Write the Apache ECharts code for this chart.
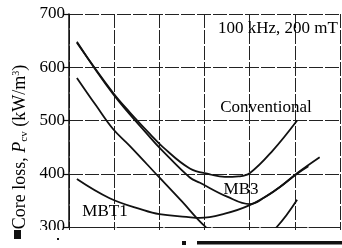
<!DOCTYPE html>
<html>
<head>
<meta charset="utf-8">
<script src="https://cdn.jsdelivr.net/npm/echarts@6/dist/echarts.min.js"></script>
<style>
  html, body {margin: 0; padding: 0; background: #fff}
  #main {width: 342px; height: 248px}
</style>
</head>
<body>
<div id="main"></div>
<script>
// x is temperature (deg C), labels are cut off in the source picture
var tempRange = [0, 120]
var lossRange = [300, 700]

var convTemp = [3.5, 19.5, 27, 36, 41.6, 53.5, 62.4, 69, 75, 80, 90.3, 101]
var convLoss = [646, 552, 515, 474, 450, 410, 399, 394, 395, 401, 444, 500]

var mb3Temp = [3.5, 19.5, 36, 41, 53.5, 58, 70, 80, 86.7, 93.4, 101, 111]
var mb3Loss = [648, 550, 468, 445, 393, 383, 357, 343, 356, 375, 401, 431]

var mbt1Temp = [3.5, 18, 32.7, 40, 52, 58, 69, 80, 91, 101, 106]
var mbt1Loss = [390, 354, 332, 324, 319, 317, 325, 341, 368, 400, 414]

var steepTemp = [3.5, 12, 19.5, 27, 40, 50, 60, 68, 76, 84, 92, 101]
var steepLoss = [580, 528, 484, 452, 393, 348, 302, 276, 265, 274, 300, 351]

var serif = '"Liberation Serif", "DejaVu Serif", serif'

function pairs(xs, ys) {
  return xs.map(function (x, i) {
    return [x, ys[i]]
  })
}

function curve(name, xs, ys) {
  return {
    name: name,
    type: 'line',
    data: pairs(xs, ys),
    smooth: 0.4,
    showSymbol: false,
    clip: true,
    lineStyle: {color: '#111', width: 1.8}
  }
}

function label(text, x, y) {
  return {
    type: 'text',
    x: x, y: y,
    z: 50,
    style: {text: text, font: '17px ' + serif, fill: '#000', align: 'center', verticalAlign: 'middle'}
  }
}

var chart = echarts.init(document.getElementById('main'))
var option = {
  animation: false,
  grid: {left: 69, top: 14, right: 2, bottom: 21},
  xAxis: {
    type: 'value',
    min: tempRange[0], max: tempRange[1], interval: 20,
    axisLabel: {show: false},
    axisLine: {lineStyle: {color: '#222', width: 1, type: [4, 2]}},
    axisTick: {show: true, length: 3, lineStyle: {color: '#222'}},
    splitLine: {show: true, lineStyle: {color: '#222', width: 1, type: [14, 2]}}
  },
  yAxis: {
    type: 'value',
    min: lossRange[0], max: lossRange[1], interval: 100,
    axisLine: {show: true, lineStyle: {color: '#111', width: 1.5}},
    axisTick: {show: true, length: 5, lineStyle: {color: '#111', width: 1.2}},
    axisLabel: {margin: 4, color: '#000', fontFamily: serif, fontSize: 17},
    splitLine: {show: true, lineStyle: {color: '#222', width: 1, type: [14, 2]}}
  },
  series: [
    curve('Conventional', convTemp, convLoss),
    curve('MB3', mb3Temp, mb3Loss),
    curve('MBT1', mbt1Temp, mbt1Loss),
    curve('other', steepTemp, steepLoss)
  ],
  graphic: [
    label('100 kHz, 200 mT', 278, 29),
    label('Conventional', 266, 108),
    label('MB3', 241, 190),
    label('MBT1', 105, 212),
    {
      type: 'text',
      x: 20, y: 147,
      rotation: Math.PI / 2,
      z: 50,
      style: {
        text: 'Core loss, {i|P}{sub|cv} (kW/m{sup|3})',
        font: '18px ' + serif, fill: '#000', align: 'center', verticalAlign: 'middle',
        rich: {
          i: {fontFamily: serif, fontSize: 18, fontStyle: 'italic', fill: '#000'},
          sub: {fontFamily: serif, fontSize: 11, padding: [8, 0, 0, 0], fill: '#000'},
          sup: {fontFamily: serif, fontSize: 10, padding: [0, 0, 8, 0], fill: '#000'}
        }
      }
    },
    // the scan is cut just under the plot
    {type: 'rect', z: 60, shape: {x: 0, y: 230, width: 342, height: 18}, style: {fill: '#fff'}},
    {type: 'rect', z: 61, shape: {x: 14, y: 230, width: 7, height: 9}, style: {fill: '#111'}},
    {type: 'rect', z: 61, shape: {x: 57, y: 238, width: 2, height: 2}, style: {fill: '#111'}},
    {type: 'rect', z: 61, shape: {x: 182, y: 241, width: 4, height: 4}, style: {fill: '#111'}},
    {type: 'rect', z: 61, shape: {x: 197, y: 241, width: 145, height: 3.5}, style: {fill: '#111'}}
  ]
}
chart.setOption(option)
</script>
</body>
</html>
